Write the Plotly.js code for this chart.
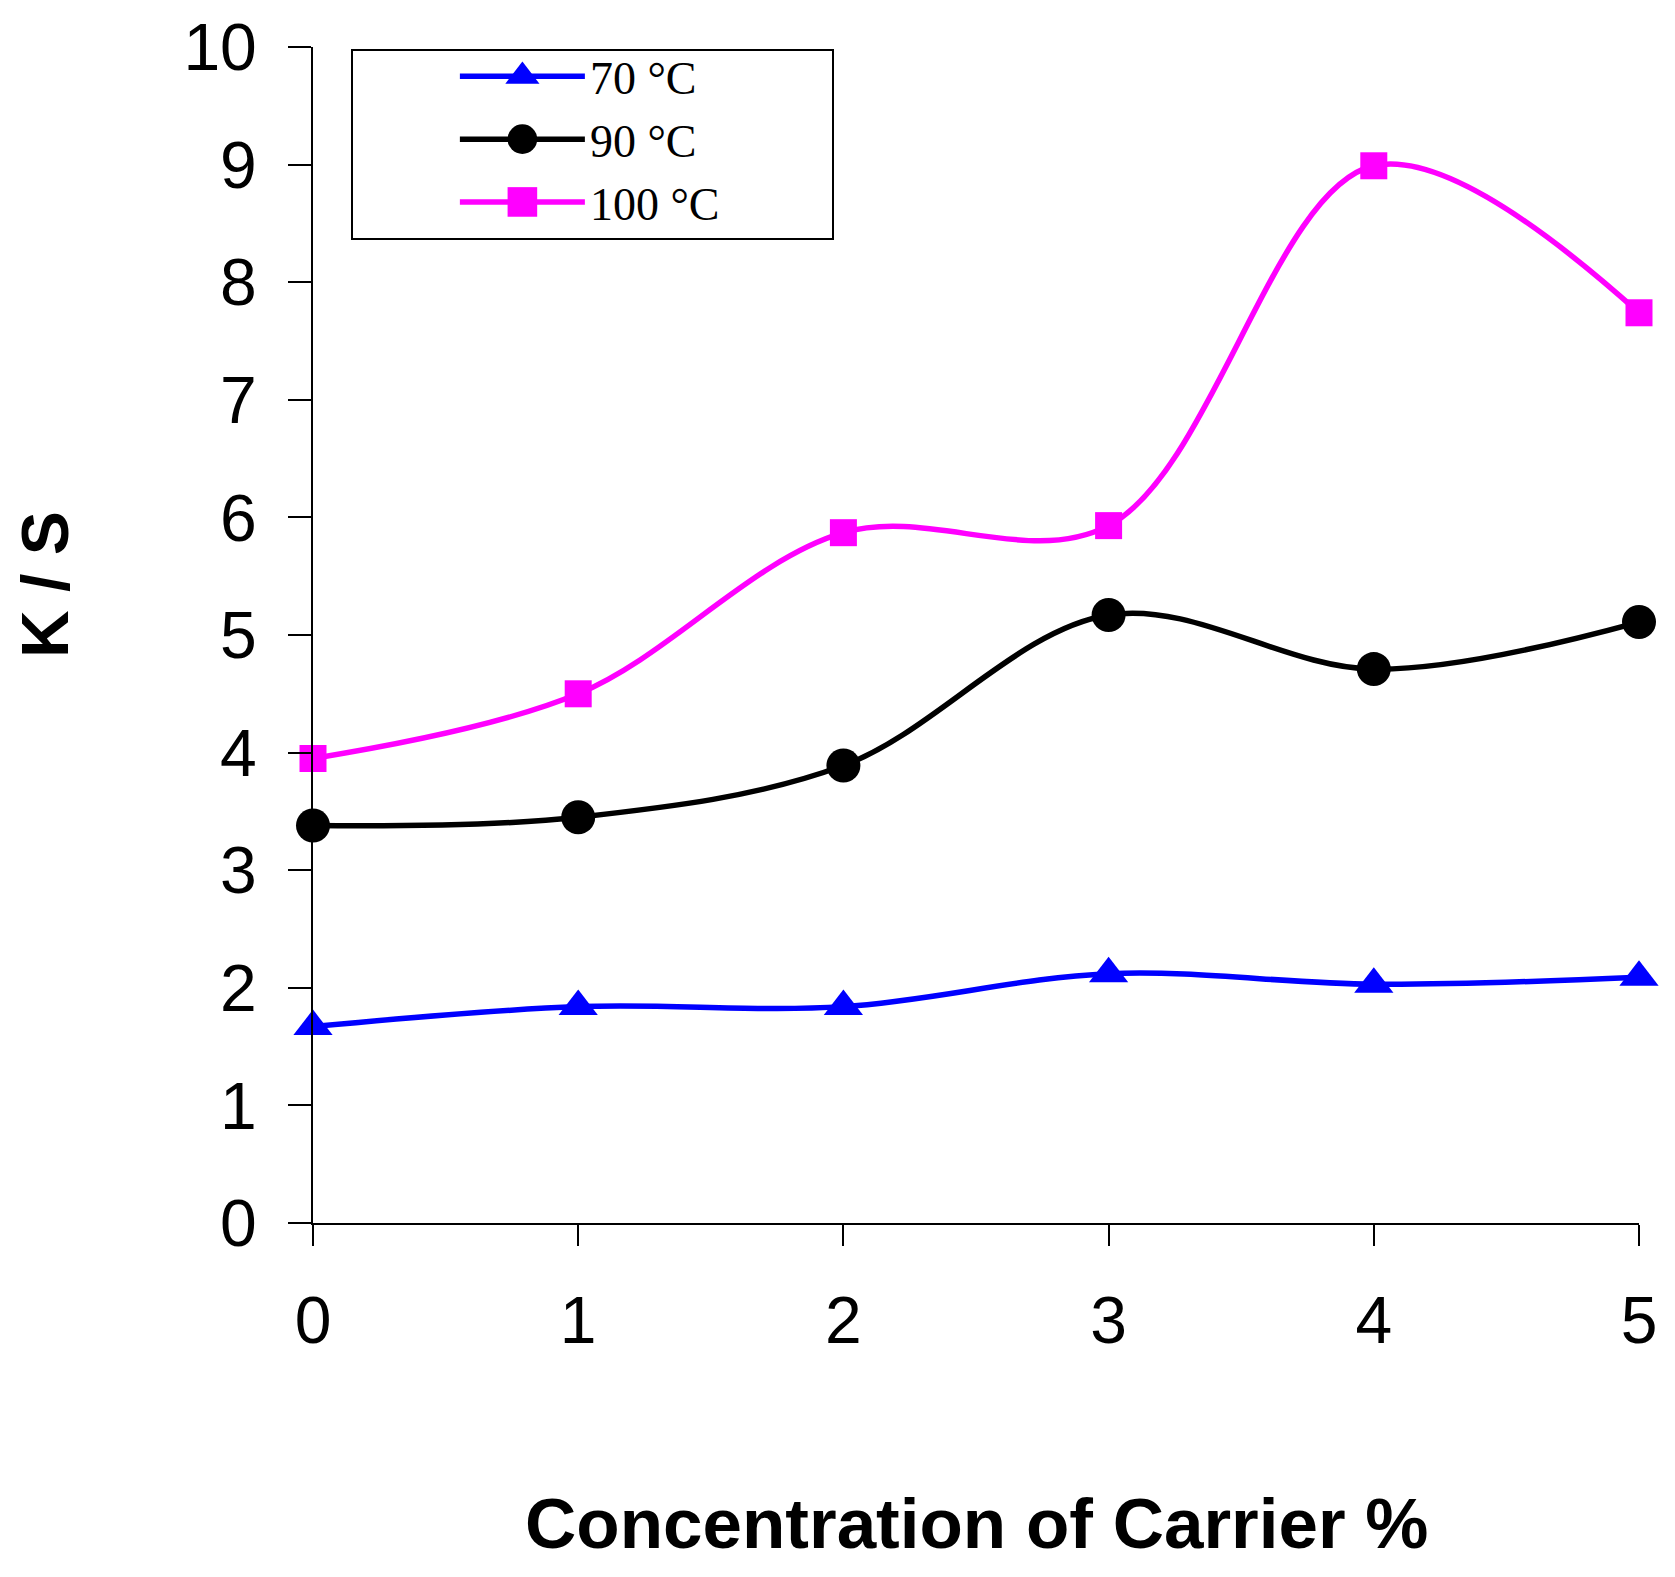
<!DOCTYPE html>
<html>
<head>
<meta charset="utf-8">
<script src="https://cdn.plot.ly/plotly-3.0.1.min.js"></script>
<style>
  html, body { margin: 0; padding: 0; background: #fff; }
  #plot { width: 1675px; height: 1577px; }
</style>
</head>
<body>
<div id="plot"></div>
<script>
// carrier concentration (%) and K/S readings per dyeing temperature
const carrier = [0, 1, 2, 3, 4, 5];
const ks70 = [1.67, 1.84, 1.84, 2.12, 2.03, 2.09];
const ks90 = [3.38, 3.45, 3.89, 5.17, 4.71, 5.11];
const ks100 = [3.95, 4.50, 5.87, 5.93, 8.99, 7.74];
const seriesNames = ["70 °C", "90 °C", "100 °C"];

const sans = "Arial, 'Liberation Sans', sans-serif";
const serif = "'Times New Roman', 'Liberation Serif', serif";

function series(name, ys, color, symbol, size) {
  return {
    x: carrier,
    y: ys,
    name: name,
    type: "scatter",
    mode: "lines+markers",
    cliponaxis: false,
    line: { color: color, width: 5.5, shape: "spline", smoothing: 1 },
    marker: { color: color, symbol: symbol, size: size, line: { width: 0 } }
  };
}

const traces = [
  series(seriesNames[0], ks70, "#0000ff", "triangle-up", 34),
  series(seriesNames[1], ks90, "#000000", "circle", 34),
  series(seriesNames[2], ks100, "#ff00ff", "square", 27)
];

const layout = {
  width: 1675,
  height: 1577,
  margin: { l: 313, r: 36, t: 47, b: 354 },
  paper_bgcolor: "#fff",
  plot_bgcolor: "#fff",
  showlegend: true,
  legend: {
    x: 0.107, xanchor: "left",
    y: 1.006, yanchor: "top",
    bgcolor: "rgba(0,0,0,0)",
    borderwidth: 0,
    itemwidth: 125,
    itemsizing: "trace",
    font: { family: serif, size: 46, color: "#000" }
  },
  xaxis: {
    range: [0, 5],
    tickvals: carrier,
    showgrid: false,
    zeroline: false,
    showline: true, linecolor: "#000", linewidth: 2,
    ticks: "outside", ticklen: 21, tickwidth: 2, tickcolor: "#000",
    ticklabelstandoff: 18,
    tickfont: { family: sans, size: 66, color: "#000" }
  },
  yaxis: {
    range: [0, 10],
    dtick: 1,
    showgrid: false,
    zeroline: false,
    showline: true, linecolor: "#000", linewidth: 2,
    ticks: "outside", ticklen: 23, tickwidth: 2, tickcolor: "#000",
    ticklabelstandoff: 18,
    tickfont: { family: sans, size: 66, color: "#000" }
  },
  shapes: [{
    type: "rect", xref: "paper", yref: "paper",
    x0: (352 - 313) / 1326, x1: (833 - 313) / 1326,
    y0: (1223 - 239) / 1176, y1: (1223 - 50) / 1176,
    line: { color: "#000", width: 2 }, fillcolor: "rgba(0,0,0,0)"
  }],
  annotations: [
    {
      text: "<b>Concentration of Carrier %</b>",
      xref: "paper", yref: "paper", x: 0.5, y: (1223 - 1523) / 1176,
      xanchor: "center", yanchor: "middle", showarrow: false,
      font: { family: sans, size: 71, color: "#000" }
    },
    {
      text: "<b>K / S</b>",
      xref: "paper", yref: "paper", x: (45 - 313) / 1326, y: (1223 - 585) / 1176,
      xanchor: "center", yanchor: "middle", textangle: -90, showarrow: false,
      font: { family: sans, size: 66, color: "#000" }
    }
  ]
};

Plotly.newPlot("plot", traces, layout, { displayModeBar: false, staticPlot: true }).then(function(gd) {
  // legend symbols are capped at 16px by plotly, the original shows them full size
  gd.querySelectorAll(".legend .legendpoints path.scatterpts").forEach(function(p) {
    p.setAttribute("transform", (p.getAttribute("transform") || "") + " scale(1.85)");
  });
});
</script>
</body>
</html>
